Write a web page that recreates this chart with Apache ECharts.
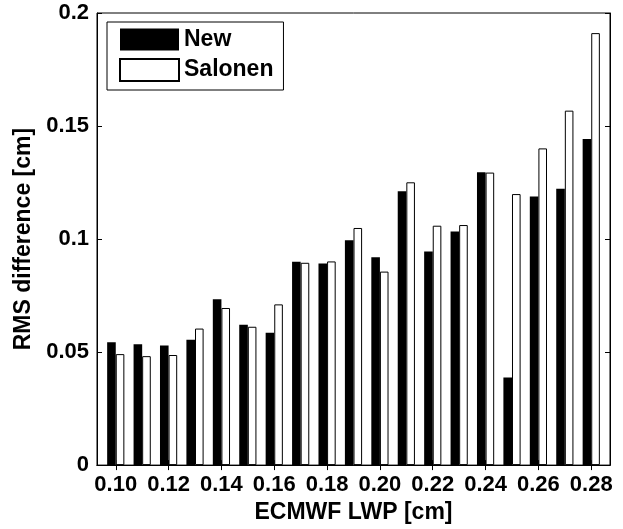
<!DOCTYPE html>
<html>
<head>
<meta charset="utf-8">
<script src="https://cdn.jsdelivr.net/npm/echarts@6/dist/echarts.min.js"></script>
<style>
  html, body { margin: 0; padding: 0; background: #fff; }
  #chart { width: 623px; height: 529px; }
</style>
</head>
<body>
<div id="chart"></div>
<script>
// ECMWF LWP bins [cm]
var lwpBins = [0.10, 0.11, 0.12, 0.13, 0.14, 0.15, 0.16, 0.17, 0.18, 0.19,
               0.20, 0.21, 0.22, 0.23, 0.24, 0.25, 0.26, 0.27, 0.28]
// RMS difference [cm]
var newRms = [0.0544, 0.0535, 0.0529, 0.0555, 0.0734, 0.0621, 0.0585, 0.0900, 0.0892, 0.0995,
              0.0919, 0.1212, 0.0945, 0.1033, 0.1295, 0.0387, 0.1188, 0.1222, 0.1443]
var salonenRms = [0.0491, 0.0482, 0.0487, 0.0604, 0.0695, 0.0612, 0.0711, 0.0895, 0.0901, 0.1049,
                  0.0856, 0.1251, 0.1059, 0.1062, 0.1294, 0.1199, 0.1401, 0.1568, 0.1911]
var xTickLabels = ['0.10', '0.12', '0.14', '0.16', '0.18', '0.20', '0.22', '0.24', '0.26', '0.28']
var yTicks = [0, 0.05, 0.1, 0.15, 0.2]

var font = 'Liberation Sans, Arial, Helvetica, sans-serif'
var xTickValues = xTickLabels.map(Number)

function pairs(vals) {
  return lwpBins.map(function(x, i) { return [x, vals[i]] })
}

var chart = echarts.init(document.getElementById('chart'))
chart.setOption({
  backgroundColor: '#fff',
  animation: false,
  grid: {
    left: 97,
    right: 13,
    top: 13,
    bottom: 61,
    show: true,
    borderColor: '#000',
    borderWidth: 1
  },
  legend: {
    orient: 'vertical',
    left: 107,
    top: 22,
    data: ['New', 'Salonen'],
    icon: 'rect',
    itemWidth: 59,
    itemHeight: 22,
    itemGap: 7,
    padding: [6, 10, 8, 12],
    borderColor: '#000',
    borderWidth: 1,
    backgroundColor: '#fff',
    textStyle: { color: '#000', fontSize: 23, fontWeight: 'bold', fontFamily: font }
  },
  xAxis: [{
    type: 'value',
    min: 0.0929,
    max: 0.2871,
    name: 'ECMWF LWP [cm]',
    nameLocation: 'middle',
    nameGap: 35,
    nameTextStyle: { color: '#000', fontSize: 23, fontWeight: 'bold', fontFamily: font },
    splitLine: { show: false },
    axisLine: { lineStyle: { color: '#000' } },
    axisTick: { inside: true, length: 5, lineStyle: { color: '#000' }, customValues: xTickValues },
    axisLabel: {
      color: '#000', fontSize: 22, fontWeight: 'bold', fontFamily: font, margin: 9,
      customValues: xTickValues,
      formatter: function(v) { return v.toFixed(2) }
    }
  }, {
    type: 'value',
    position: 'top',
    min: 0.0929,
    max: 0.2871,
    splitLine: { show: false },
    axisLine: { lineStyle: { color: '#000' } },
    axisTick: { inside: true, length: 5, lineStyle: { color: '#000' }, customValues: xTickValues },
    axisLabel: { show: false }
  }],
  yAxis: [{
    type: 'value',
    min: yTicks[0],
    max: yTicks[yTicks.length - 1],
    interval: 0.05,
    name: 'RMS difference [cm]',
    nameLocation: 'middle',
    nameRotate: 90,
    nameGap: 62,
    nameTextStyle: { color: '#000', fontSize: 23, fontWeight: 'bold', fontFamily: font },
    splitLine: { show: false },
    axisLine: { show: true, lineStyle: { color: '#000' } },
    axisTick: { show: true, inside: true, length: 5, lineStyle: { color: '#000' } },
    axisLabel: { color: '#000', fontSize: 22, fontWeight: 'bold', fontFamily: font, margin: 8 }
  }, {
    type: 'value',
    position: 'right',
    min: yTicks[0],
    max: yTicks[yTicks.length - 1],
    interval: 0.05,
    splitLine: { show: false },
    axisLine: { show: true, lineStyle: { color: '#000' } },
    axisTick: { show: true, inside: true, length: 5, lineStyle: { color: '#000' } },
    axisLabel: { show: false }
  }],
  series: [{
    name: 'New',
    type: 'bar',
    xAxisIndex: 0,
    yAxisIndex: 0,
    barWidth: 8.6,
    barGap: '0%',
    itemStyle: { color: '#000' },
    data: pairs(newRms)
  }, {
    name: 'Salonen',
    type: 'bar',
    xAxisIndex: 0,
    yAxisIndex: 0,
    barWidth: 8.6,
    barGap: '0%',
    itemStyle: { color: '#fff', borderColor: '#000', borderWidth: 1 },
    data: pairs(salonenRms)
  }]
})
</script>
</body>
</html>
